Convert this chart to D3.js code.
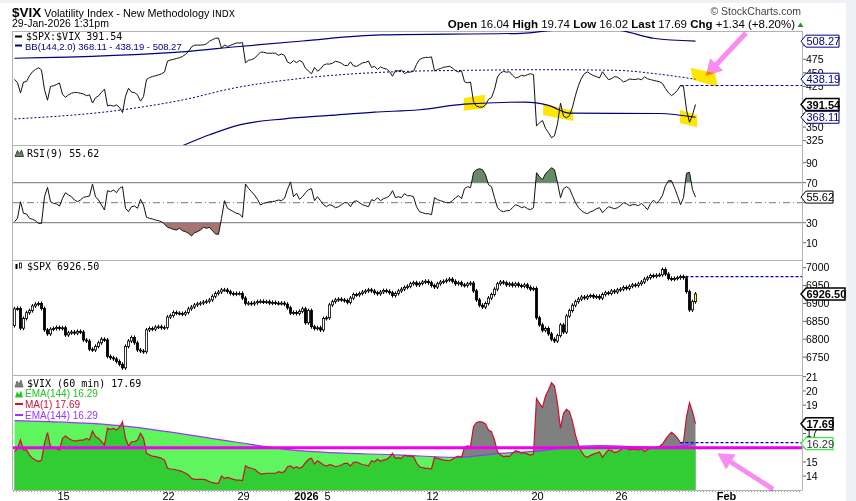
<!DOCTYPE html>
<html>
<head>
<meta charset="utf-8">
<script src="https://cdn.jsdelivr.net/npm/d3@7/dist/d3.min.js"></script>
<style>
  body { margin: 0; background: #eef1f5; }
  svg { display: block; }
</style>
</head>
<body>
<script>
// 60 min bars, index 0 = Dec 10 2025 14:30 ... index 227 = Jan 29 2026 13:30
var spxFirstOpen = 6838;
var spxClose = [
  6885, 6886, 6831, 6858, 6874, 6880, 6893, 6898, 6900, 6886,
  6826, 6815, 6828, 6830, 6833, 6830, 6832, 6812, 6818, 6820,
  6817, 6822, 6820, 6798, 6795, 6772, 6770, 6780, 6790, 6800,
  6798, 6752, 6748, 6745, 6738, 6730, 6720, 6780, 6795, 6805,
  6790, 6770, 6767, 6765, 6826, 6830, 6828, 6834, 6835, 6832,
  6833, 6862, 6866, 6875, 6873, 6872, 6870, 6875, 6885, 6890,
  6896, 6899, 6901, 6904, 6906, 6910, 6920, 6928, 6932, 6938,
  6938, 6933, 6928, 6926, 6928, 6928, 6915, 6900, 6901, 6899,
  6902, 6905, 6906, 6904, 6905, 6901, 6903, 6901, 6900, 6901,
  6898, 6888, 6873, 6875, 6872, 6878, 6885, 6846, 6880, 6835,
  6830, 6832, 6826, 6858, 6860, 6896, 6905, 6910, 6912, 6910,
  6908, 6903, 6915, 6925, 6924, 6928, 6932, 6935, 6938, 6935,
  6930, 6927, 6932, 6936, 6934, 6930, 6922, 6928, 6935, 6940,
  6945, 6948, 6955, 6958, 6952, 6956, 6960, 6962, 6958, 6950,
  6946, 6955, 6960, 6962, 6965, 6968, 6962, 6955, 6958, 6952,
  6950, 6955, 6957, 6935, 6910, 6895, 6890, 6900, 6915, 6925,
  6940, 6955, 6960, 6958, 6952, 6955, 6950, 6955, 6950, 6948,
  6952, 6945, 6940, 6942, 6860, 6840, 6825, 6830, 6815, 6800,
  6795, 6810, 6840, 6820, 6865, 6880, 6895, 6905, 6912, 6918,
  6915, 6920, 6922, 6918, 6920, 6915, 6925, 6930, 6928, 6935,
  6932, 6938, 6940, 6945, 6942, 6948, 6952, 6950, 6955, 6960,
  6968, 6972, 6978, 6976, 6979, 6980, 6995, 6982, 6970, 6968,
  6970, 6972, 6975, 6972, 6933, 6882, 6905, 6926.5
];
var vixClose = [
  15.72, 15.95, 16.54, 15.84, 15.84, 15.48, 15.25, 15.13, 15.02, 15.13,
  16.30, 17.06, 16.07, 16.03, 15.95, 15.84, 16.66, 16.82, 16.66, 16.54,
  16.47, 16.50, 16.54, 16.54, 16.66, 16.54, 17.17, 16.78, 16.66, 16.42,
  16.19, 17.36, 17.29, 17.36, 17.24, 17.43, 17.83, 16.66, 16.12, 16.42,
  16.42, 16.54, 17.01, 16.66, 15.60, 15.48, 15.41, 15.37, 15.32, 15.25,
  15.13, 14.55, 14.50, 14.48, 14.43, 14.38, 14.31, 14.20, 14.08, 13.84,
  13.77, 13.77, 13.77, 13.77, 13.72, 13.60, 13.54, 13.49, 13.49, 14.01,
  13.84, 13.91, 13.84, 13.77, 13.72, 13.72, 13.68, 14.73, 14.59, 14.55,
  14.48, 14.31, 14.15, 14.15, 14.20, 14.20, 14.20, 14.20, 14.31, 14.24,
  14.31, 14.66, 14.71, 14.55, 14.66, 14.55, 14.66, 14.94, 15.18, 15.25,
  14.85, 15.08, 14.94, 14.78, 14.71, 14.80, 14.76, 14.66, 14.71, 14.78,
  14.90, 14.90, 14.71, 14.97, 14.99, 14.90, 14.80, 14.78, 14.71, 15.08,
  15.01, 15.18, 15.04, 15.13, 15.18, 15.32, 15.60, 15.25, 15.30, 15.25,
  15.48, 15.41, 15.41, 15.37, 14.94, 14.66, 14.59, 14.55, 14.55, 14.50,
  15.32, 15.25, 15.20, 15.13, 15.11, 15.08, 15.18, 15.32, 15.41, 15.32,
  16.03, 16.12, 16.07, 17.48, 17.78, 17.83, 17.81, 17.67, 17.24, 17.13,
  16.54, 15.72, 15.48, 15.37, 15.41, 15.39, 15.60, 15.79, 15.72, 15.60,
  15.65, 15.55, 15.48, 15.55, 19.47, 19.12, 18.84, 19.64, 20.06, 20.58,
  20.34, 19.12, 17.36, 18.42, 18.70, 18.54, 17.83, 16.89, 16.19, 15.72,
  15.41, 15.32, 15.46, 15.55, 15.62, 15.70, 15.32, 15.60, 15.84, 15.79,
  15.65, 15.70, 15.84, 16.03, 15.95, 15.84, 15.88, 15.88, 15.84, 15.93,
  15.74, 15.88, 15.95, 16.00, 16.05, 16.10, 16.26, 16.59, 16.87, 17.08,
  16.92, 16.68, 16.35, 16.40, 18.18, 19.17, 18.54, 17.69
];
var rsi9 = [
  31.0, 34.4, 51.0, 39.4, 38.7, 34.4, 33.4, 32.0, 29.4, 29.4,
  56.0, 65.4, 51.0, 49.4, 48.7, 46.7, 54.4, 60.0, 57.7, 56.0,
  52.7, 51.0, 52.7, 55.4, 56.0, 56.7, 68.7, 56.0, 52.7, 47.7,
  42.7, 62.0, 61.0, 62.7, 60.0, 64.4, 66.0, 44.4, 41.0, 46.0,
  46.7, 44.4, 53.4, 47.7, 35.4, 34.4, 33.7, 32.7, 32.0, 31.0,
  28.7, 25.4, 24.4, 23.4, 22.7, 24.4, 22.0, 21.0, 19.4, 16.7,
  20.0, 21.0, 22.7, 25.4, 24.4, 25.4, 22.0, 18.7, 18.4, 34.4,
  52.0, 44.4, 42.7, 41.0, 39.4, 38.7, 35.4, 68.7, 64.4, 61.0,
  57.7, 53.4, 47.7, 49.4, 50.0, 51.0, 51.0, 51.7, 52.7, 52.0,
  54.4, 63.4, 70.8, 56.0, 59.4, 53.4, 56.0, 60.0, 63.0, 64.0,
  52.0, 56.0, 52.0, 48.0, 46.0, 48.0, 47.0, 45.0, 46.0, 48.0,
  50.0, 50.0, 46.0, 51.0, 52.0, 50.0, 48.0, 47.0, 46.0, 53.0,
  52.0, 55.0, 52.0, 54.0, 55.0, 57.0, 62.0, 55.0, 56.0, 55.0,
  59.0, 57.0, 57.0, 56.0, 46.0, 41.0, 40.0, 39.0, 39.0, 38.0,
  55.0, 53.0, 52.0, 51.0, 50.0, 50.0, 52.0, 55.0, 57.0, 54.0,
  64.0, 66.0, 65.0, 80.0, 83.0, 84.0, 83.0, 78.0, 68.0, 66.0,
  55.0, 45.0, 42.0, 41.0, 42.0, 42.0, 45.0, 48.0, 47.0, 45.0,
  46.0, 44.0, 43.0, 45.0, 80.0, 76.0, 73.0, 79.0, 82.0, 85.0,
  83.0, 70.0, 55.0, 64.0, 66.0, 64.0, 57.0, 50.0, 45.0, 42.0,
  40.0, 39.0, 41.0, 42.0, 44.0, 45.0, 40.0, 43.0, 46.0, 45.0,
  44.0, 45.0, 47.0, 50.0, 49.0, 47.0, 48.0, 48.0, 47.0, 49.4,
  46.4, 43.0, 49.0, 52.5, 49.4, 52.5, 57.5, 67.0, 72.0, 72.0,
  65.0, 57.0, 48.0, 55.0, 79.4, 80.4, 63.0, 55.62
];

// Bollinger Bands (144, 2.0) on $SPX:$VIX, read as knots [bar index, value]
var bbUpperIdx = [0, 57, 74, 96, 122, 169, 182, 200, 213, 227];
var bbUpper = [476.8, 489, 498, 508.6, 519.7, 522.8, 528.8, 528.8, 513.6, 508.27];
var bbMidIdx = [0, 36, 56, 73, 96, 129, 150, 175, 200, 215, 227];
var bbMid = [365, 381.8, 400, 421.7, 440, 452.4, 454.5, 455.7, 454.7, 447.4, 438.19];
var bbLowerIdx = [45, 57, 65, 75, 90, 105, 120, 135, 150, 170, 178, 185, 215, 227];
var bbLower = [290, 318, 335.8, 354.2, 365.3, 371.5, 377.6, 381.9, 392.3, 396, 390, 375.7, 375, 368.11];

// EMA(144) of $VIX, knots
var emaIdx = [0, 36, 51, 73, 96, 129, 147, 162, 175, 182, 189, 195, 215, 222, 227];
var ema144 = [17.9, 17.53, 17.13, 16.42, 15.77, 15.48, 15.32, 15.6, 15.77, 15.95, 16.12, 16.14, 16.03, 16.1, 16.29];

var prevCloseIdx = 222;     // last bar of Jan 28
var vixLevelLine = [16.0];  // hand drawn magenta line

var dayIdx = [16, 51, 76, 97, 104, 139, 174, 202, 237];
var dayLabel = ["15", "22", "29", "2026", "5", "12", "20", "26", "Feb"];
var dayBold = [false, false, false, true, false, false, false, false, true];

var ratioTicks = [325, 350, 375, 400, 425, 450, 475, 500];
var rsiTicks = [10, 30, 50, 70, 90];
var spxTicks = [6750, 6800, 6850, 6900, 6950, 7000];
var vixTicks = [14, 15, 16, 17, 18, 19, 20, 21];

var quoteLabels = ["Open", "High", "Low", "Last", "Chg"];
var quoteValues = ["16.04", "19.74", "16.02", "17.69", "+1.34 (+8.20%)"];

var ratioLast = "391.54", rsiLast = "55.62", spxLast = "6926.50", vixLast = "17.69", emaLast = "16.29";

// yellow marker boxes on the ratio panel: [bar index, ratio]
var marks = [
  [[149.8, 403.6], [156.8, 409.7], [156.8, 385.2], [149.8, 380.2]],
  [[176.2, 392.5], [186.2, 380.2], [186.2, 361.2], [176.2, 372.3]],
  [[221.8, 382.0], [227.5, 371.7], [227.5, 349.6], [221.8, 357.5]],
  [[225.4, 459.4], [233.5, 449.1], [234.4, 424.4], [226.2, 436.7]]
];

var sans = '"Liberation Sans", Arial, sans-serif';
var mono = '"DejaVu Sans Mono", monospace';

var svg = d3.select("body").append("svg").attr("width", 856).attr("height", 501);
svg.append("rect").attr("x", 0).attr("y", 3).attr("width", 846).attr("height", 498).attr("fill", "#fff");

var L = 13, R = 802;
var pTop = [31, 145, 260, 375], pBot = [145, 260, 375, 490];

var x = d3.scaleLinear().domain([-0.5, 262.5]).range([L, R]);
var yRatio = d3.scaleLinear().domain([317, 527]).range([pBot[0], pTop[0]]);
var yRsi = d3.scaleLinear().domain([-7.3, 107.7]).range([pBot[1], pTop[1]]);
var ySpx = d3.scaleLinear().domain([6700, 7021.5]).range([pBot[2], pTop[2]]);
var yVix = d3.scaleLinear().domain([13.02, 21.12]).range([pBot[3], pTop[3]]);

var defs = svg.append("defs");
pTop.forEach(function(t, k) {
  defs.append("clipPath").attr("id", "clip" + k)
    .append("rect").attr("x", L).attr("y", t).attr("width", R - L).attr("height", pBot[k] - t);
});

var ratio = spxClose.map(function(c, i) { return c / vixClose[i]; });
var spxOpen = spxClose.map(function(c, i) { return i === 0 ? spxFirstOpen : spxClose[i - 1]; });

// ---------------- header ----------------
var title = svg.append("text").attr("x", 12).attr("y", 17).attr("font-family", sans);
title.append("tspan").attr("font-weight", "bold").attr("font-size", 13.5).text("$VIX");
title.append("tspan").attr("font-size", 10.8).text(" Volatility Index - New Methodology ");
title.append("tspan").attr("font-size", 9).attr("font-family", '"DejaVu Sans", sans-serif').text("INDX");
svg.append("text").attr("x", 12).attr("y", 27).attr("font-family", sans).attr("font-size", 10.5)
  .text("29-Jan-2026 1:31pm");
svg.append("text").attr("x", 801).attr("y", 14.5).attr("text-anchor", "end").attr("font-family", sans)
  .attr("font-size", 10.5).attr("fill", "#444").text("\u00A9 StockCharts.com");
var q = svg.append("text").attr("x", 795).attr("y", 27.5).attr("text-anchor", "end")
  .attr("font-family", sans).attr("font-size", 11.5);
quoteLabels.forEach(function(lab, i) {
  q.append("tspan").attr("font-weight", "bold").text((i ? " " : "") + lab);
  q.append("tspan").text(" " + quoteValues[i]);
});
svg.append("path").attr("d", "M797.5,27L803.5,27L800.5,22.5Z").attr("fill", "#1a9a1a");

// ---------------- frames ----------------
var frame = svg.append("g").attr("stroke", "#b4b4b4").attr("stroke-width", 1).attr("fill", "none");
pTop.concat([pBot[3]]).forEach(function(t) {
  frame.append("line").attr("x1", 12.5).attr("x2", R + 0.5).attr("y1", t + 0.5).attr("y2", t + 0.5);
});
frame.append("line").attr("x1", 12.5).attr("x2", 12.5).attr("y1", pTop[0]).attr("y2", pBot[3]);
frame.append("line").attr("x1", R + 0.5).attr("x2", R + 0.5).attr("y1", pTop[0]).attr("y2", pBot[3]);
svg.append("line").attr("x1", L).attr("x2", R).attr("y1", pBot[3] + 1.5).attr("y2", pBot[3] + 1.5)
  .attr("stroke", "#999").attr("stroke-dasharray", "1,2");

// labels that sit under a value tag are hidden, as on the original
function axisLabels(ticks, scale, tagValues) {
  ticks.forEach(function(t) {
    var yy = scale(t);
    svg.append("line").attr("x1", R + 1).attr("x2", R + 4).attr("y1", yy).attr("y2", yy).attr("stroke", "#666");
    var covered = tagValues.some(function(v) { return Math.abs(scale(v) - yy) < 6; });
    if (covered) return;
    svg.append("text").attr("x", R + 4).attr("y", yy + 3.8).attr("font-family", sans).attr("font-size", 10.5).text(t);
  });
}
axisLabels(ratioTicks, yRatio, [bbUpper[bbUpper.length - 1], bbMid[bbMid.length - 1], bbLower[bbLower.length - 1], +ratioLast]);
axisLabels(rsiTicks, yRsi, [+rsiLast]);
axisLabels(spxTicks, ySpx, [+spxLast]);
axisLabels(vixTicks, yVix, [+vixLast, +emaLast]);

dayIdx.forEach(function(d, i) {
  svg.append("text").attr("x", x(d) + 1).attr("y", 500).attr("text-anchor", "middle")
    .attr("font-family", sans).attr("font-size", 11).attr("font-weight", dayBold[i] ? "bold" : "normal")
    .text(dayLabel[i]);
});

// ---------------- panel 1 : $SPX:$VIX + BB ----------------
var p1 = svg.append("g").attr("clip-path", "url(#clip0)");
p1.selectAll("path.mark").data(marks).enter().append("path").attr("class", "mark")
  .attr("d", function(m) { return "M" + m.map(function(p) { return x(p[0]) + "," + yRatio(p[1]); }).join("L") + "Z"; })
  .attr("fill", "#ffe600");

function knotLine(idx, yScale) {
  return d3.line().x(function(d, i) { return x(idx[i]); }).y(function(d) { return yScale(d); }).curve(d3.curveMonotoneX);
}
p1.append("path").attr("d", knotLine(bbUpperIdx, yRatio)(bbUpper)).attr("fill", "none").attr("stroke", "#000080").attr("stroke-width", 1.2);
p1.append("path").attr("d", knotLine(bbLowerIdx, yRatio)(bbLower)).attr("fill", "none").attr("stroke", "#000080").attr("stroke-width", 1.2);
p1.append("path").attr("d", knotLine(bbMidIdx, yRatio)(bbMid)).attr("fill", "none").attr("stroke", "#000080")
  .attr("stroke-width", 1).attr("stroke-dasharray", "2,2");
p1.append("line").attr("x1", x(prevCloseIdx)).attr("x2", R).attr("y1", yRatio(ratio[prevCloseIdx])).attr("y2", yRatio(ratio[prevCloseIdx]))
  .attr("stroke", "#0000cc").attr("stroke-width", 1.2).attr("stroke-dasharray", "3,2");
p1.append("path").attr("d", d3.line().x(function(d, i) { return x(i); }).y(function(d) { return yRatio(d); })(ratio))
  .attr("fill", "none").attr("stroke", "#111").attr("stroke-width", 1);

svg.append("line").attr("x1", 15).attr("x2", 22).attr("y1", 36.5).attr("y2", 36.5).attr("stroke", "#000").attr("stroke-width", 2);
svg.append("text").attr("x", 26).attr("y", 40).attr("font-family", mono).attr("font-size", 10).text("$SPX:$VIX " + ratioLast);
svg.append("line").attr("x1", 15).attr("x2", 22).attr("y1", 45.5).attr("y2", 45.5).attr("stroke", "#000080").attr("stroke-width", 2);
svg.append("text").attr("x", 25).attr("y", 49.5).attr("font-family", sans).attr("font-size", 9.5).attr("fill", "#000080")
  .text("BB(144,2.0) " + bbLower[bbLower.length - 1] + " - " + bbMid[bbMid.length - 1] + " - " + bbUpper[bbUpper.length - 1]);

// ---------------- panel 2 : RSI(9) ----------------
var p2 = svg.append("g").attr("clip-path", "url(#clip1)");
defs.append("clipPath").attr("id", "ob").append("rect").attr("x", L).attr("y", pTop[1]).attr("width", R - L).attr("height", yRsi(70) - pTop[1]);
defs.append("clipPath").attr("id", "os").append("rect").attr("x", L).attr("y", yRsi(30)).attr("width", R - L).attr("height", pBot[1] - yRsi(30));
p2.append("g").attr("clip-path", "url(#ob)").append("path")
  .attr("d", d3.area().x(function(d, i) { return x(i); }).y0(yRsi(70)).y1(function(d) { return yRsi(d); })(rsi9))
  .attr("fill", "#668c66");
p2.append("g").attr("clip-path", "url(#os)").append("path")
  .attr("d", d3.area().x(function(d, i) { return x(i); }).y0(yRsi(30)).y1(function(d) { return yRsi(d); })(rsi9))
  .attr("fill", "#a87471");
[70, 30].forEach(function(v) {
  p2.append("line").attr("x1", L).attr("x2", R).attr("y1", yRsi(v)).attr("y2", yRsi(v)).attr("stroke", "#777");
});
p2.append("line").attr("x1", L).attr("x2", R).attr("y1", yRsi(50)).attr("y2", yRsi(50)).attr("stroke", "#777")
  .attr("stroke-dasharray", "7,3,1,3");
p2.append("path").attr("d", d3.line().x(function(d, i) { return x(i); }).y(function(d) { return yRsi(d); })(rsi9))
  .attr("fill", "none").attr("stroke", "#111").attr("stroke-width", 1);
svg.append("path").attr("d", "M15,156.5L17.5,150.5L19.5,154L21.5,150L23.5,156.5Z").attr("fill", "#668c66").attr("stroke", "#222").attr("stroke-width", 0.8);
svg.append("text").attr("x", 27).attr("y", 157).attr("font-family", mono).attr("font-size", 10).text("RSI(9) " + rsiLast);

// ---------------- panel 3 : $SPX candles ----------------
var p3 = svg.append("g").attr("clip-path", "url(#clip2)");
p3.append("line").attr("x1", x(prevCloseIdx)).attr("x2", R).attr("y1", ySpx(spxClose[prevCloseIdx])).attr("y2", ySpx(spxClose[prevCloseIdx]))
  .attr("stroke", "#0000cc").attr("stroke-width", 1.2).attr("stroke-dasharray", "3,2");
var cg = p3.selectAll("g.c").data(spxClose).enter().append("g").attr("class", "c");
cg.append("line")
  .attr("x1", function(d, i) { return x(i); }).attr("x2", function(d, i) { return x(i); })
  .attr("y1", function(d, i) { return ySpx(Math.max(d, spxOpen[i])) - 2; })
  .attr("y2", function(d, i) { return ySpx(Math.min(d, spxOpen[i])) + 2; })
  .attr("stroke", "#000").attr("stroke-width", 1);
cg.append("rect")
  .attr("x", function(d, i) { return x(i) - 1.1; }).attr("width", 2.2)
  .attr("y", function(d, i) { return ySpx(Math.max(d, spxOpen[i])); })
  .attr("height", function(d, i) { return Math.max(1, ySpx(Math.min(d, spxOpen[i])) - ySpx(Math.max(d, spxOpen[i]))); })
  .attr("fill", function(d, i) { return i === spxClose.length - 1 ? "#ffff40" : (d >= spxOpen[i] ? "#fff" : "#000"); })
  .attr("stroke", "#000").attr("stroke-width", 0.8);
svg.append("rect").attr("x", 15.5).attr("y", 264).attr("width", 2).attr("height", 5).attr("fill", "#000");
svg.append("rect").attr("x", 19.5).attr("y", 263).attr("width", 2).attr("height", 5).attr("fill", "#fff").attr("stroke", "#000").attr("stroke-width", 0.8);
svg.append("text").attr("x", 27).attr("y", 270).attr("font-family", mono).attr("font-size", 10).text("$SPX " + spxLast);

// ---------------- panel 4 : $VIX ----------------
var p4 = svg.append("g").attr("clip-path", "url(#clip3)");
var emaArea = d3.area().x(function(d, i) { return x(emaIdx[i]); }).y0(pBot[3]).y1(function(d) { return yVix(d); }).curve(d3.curveMonotoneX);
var vixArea = d3.area().x(function(d, i) { return x(i); }).y0(pBot[3]).y1(function(d) { return yVix(d); });
defs.append("clipPath").attr("id", "emaClip").append("path").attr("d", emaArea(ema144));
p4.append("path").attr("d", emaArea(ema144)).attr("fill", "#5ef55e");
p4.append("path").attr("d", vixArea(vixClose)).attr("fill", "#808080");
p4.append("g").attr("clip-path", "url(#emaClip)").append("path").attr("d", vixArea(vixClose)).attr("fill", "#32cd32");
p4.append("path").attr("d", d3.line().x(function(d, i) { return x(emaIdx[i]); }).y(function(d) { return yVix(d); }).curve(d3.curveMonotoneX)(ema144))
  .attr("fill", "none").attr("stroke", "#9933ff").attr("stroke-width", 1.2);
p4.append("path").attr("d", d3.line().x(function(d, i) { return x(i); }).y(function(d) { return yVix(d); })(vixClose))
  .attr("fill", "none").attr("stroke", "#cc1133").attr("stroke-width", 1.2);
p4.append("line").attr("x1", x(prevCloseIdx)).attr("x2", R).attr("y1", yVix(vixClose[prevCloseIdx])).attr("y2", yVix(vixClose[prevCloseIdx]))
  .attr("stroke", "#0000cc").attr("stroke-width", 1.2).attr("stroke-dasharray", "3,2");
vixLevelLine.forEach(function(v) {
  p4.append("line").attr("x1", L).attr("x2", R).attr("y1", yVix(v)).attr("y2", yVix(v)).attr("stroke", "#ee00ee").attr("stroke-width", 3);
});

svg.append("path").attr("d", "M15,387L17,381L19,384L21,380L23,387Z").attr("fill", "#808080").attr("stroke", "#444").attr("stroke-width", 0.6);
svg.append("text").attr("x", 27).attr("y", 387).attr("font-family", mono).attr("font-size", 10).text("$VIX (60 min) " + vixLast);
svg.append("path").attr("d", "M15,397.5L17,391.5L19,394.5L21,390.5L23,397.5Z").attr("fill", "#22cc22");
svg.append("text").attr("x", 25).attr("y", 397).attr("font-family", sans).attr("font-size", 10).attr("fill", "#22c322").text("EMA(144) " + emaLast);
svg.append("line").attr("x1", 15).attr("x2", 23).attr("y1", 404).attr("y2", 404).attr("stroke", "#cc1133").attr("stroke-width", 2);
svg.append("text").attr("x", 25).attr("y", 407.5).attr("font-family", sans).attr("font-size", 10).attr("fill", "#cc1133").text("MA(1) " + vixLast);
svg.append("line").attr("x1", 15).attr("x2", 23).attr("y1", 415).attr("y2", 415).attr("stroke", "#9933ff").attr("stroke-width", 2);
svg.append("text").attr("x", 25).attr("y", 418.5).attr("font-family", sans).attr("font-size", 10).attr("fill", "#9933ff").text("EMA(144) " + emaLast);

// ---------------- value tags ----------------
function tag(yy, label, stroke, bold, right, sw, color) {
  svg.append("path").attr("d", "M801," + yy + "L806," + (yy - 6) + "H" + right + "V" + (yy + 6) + "H806Z")
    .attr("fill", "#fff").attr("stroke", stroke).attr("stroke-width", sw);
  svg.append("text").attr("x", 806.5).attr("y", yy + 4).attr("font-family", sans).attr("font-size", 11)
    .attr("font-weight", bold ? "bold" : "normal").attr("fill", color).text(label);
}
tag(yRatio(bbUpper[bbUpper.length - 1]), String(bbUpper[bbUpper.length - 1]), "#000080", false, 839, 1, "#000080");
tag(yRatio(bbMid[bbMid.length - 1]), String(bbMid[bbMid.length - 1]), "#000080", false, 839, 1, "#000080");
tag(yRatio(bbLower[bbLower.length - 1]), String(bbLower[bbLower.length - 1]), "#000080", false, 839, 1, "#000080");
tag(yRatio(+ratioLast), ratioLast, "#000", true, 839, 1.5, "#000");
tag(yRsi(+rsiLast), rsiLast, "#000", false, 833, 1, "#000");
tag(ySpx(+spxLast), spxLast, "#000", true, 845, 1.5, "#000");
tag(yVix(+emaLast), emaLast, "#33ee33", false, 833, 1.2, "#333");
tag(yVix(+vixLast), vixLast, "#000", true, 833, 1.5, "#000");

// ---------------- annotation arrows ----------------
var arrows = [
  { tail: [x(243.8), yRatio(523.3)], tip: [x(230.4), yRatio(444.1)] },
  { tail: [x(252.9), yVix(13.07)], tip: [x(234.3), yVix(15.6)] }
];
arrows.forEach(function(a) {
  var dx = a.tip[0] - a.tail[0], dy = a.tip[1] - a.tail[1], len = Math.sqrt(dx * dx + dy * dy);
  var ux = dx / len, uy = dy / len, hl = 16, hw = 9;
  var bx = a.tip[0] - ux * hl, by = a.tip[1] - uy * hl;
  var g = svg.append("g").style("mix-blend-mode", "multiply");
  g.append("line").attr("x1", a.tail[0]).attr("y1", a.tail[1]).attr("x2", bx + ux).attr("y2", by + uy)
    .attr("stroke", "#f88cf0").attr("stroke-width", 5);
  g.append("path").attr("d", "M" + a.tip[0] + "," + a.tip[1] + "L" + (bx - uy * hw) + "," + (by + ux * hw) +
    "L" + (bx + uy * hw) + "," + (by - ux * hw) + "Z").attr("fill", "#f88cf0");
});
</script>
</body>
</html>
